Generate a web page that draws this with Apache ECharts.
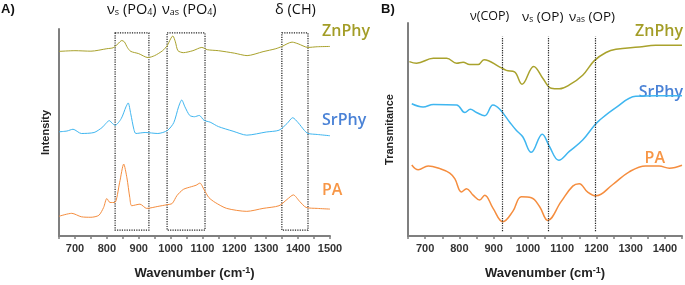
<!DOCTYPE html>
<html>
<head>
<meta charset="utf-8">
<script src="https://cdn.jsdelivr.net/npm/echarts@6/dist/echarts.min.js"></script>
<style>
  html, body { margin: 0; padding: 0; background: #fff; }
  #chart { width: 685px; height: 285px; }
</style>
</head>
<body>
<div id="chart"></div>
<script>
// Raman spectra (panel A) - [wavenumber, intensity], offset by sample
const ramanZn = [[650,187.3],[700,188],[750,187.5],[800,190],[820,191],[835,195],[847,198.3],[855,197],[865,191],[875,187.3],[900,185],[929,181],[950,183],[975,188],[989,193],[1000,200],[1007,203],[1015,197],[1023,188],[1040,186],[1070,188],[1098,191.3],[1115,189],[1150,188],[1200,185.5],[1240,183],[1290,187],[1330,190],[1349,192.3],[1381,196.7],[1400,195],[1431,191.3],[1460,192],[1500,192.3]];
const ramanSr = [[650,105.7],[675,106.5],[694,108.3],[720,104],[760,105],[785,110],[808,117],[818,114],[826,112.3],[845,119],[860,131],[867,135],[875,124],[885,108],[891,104],[920,105],[960,104],[990,107],[1010,115],[1025,131],[1035,138],[1045,131],[1060,122.3],[1075,121],[1090,122.3],[1105,117.3],[1124,115.5],[1150,111],[1196,106.3],[1239,102.3],[1300,105.5],[1340,107.3],[1365,114],[1383,120],[1400,115],[1420,107],[1431,104],[1460,103],[1500,101.7]];
const ramanPA = [[650,20],[690,23],[720,19.5],[750,19],[775,21],[790,29],[800,38],[810,34],[825,34],[840,54],[853,73],[863,59],[872,39],[878,30.7],[904,32.3],[925,28],[960,30],[988,31.7],[1005,33],[1020,41],[1040,47.3],[1065,50],[1080,51.5],[1092,53.7],[1105,47],[1120,39],[1140,34],[1176,28],[1239,25],[1290,28],[1340,30.7],[1365,37],[1385,41.7],[1405,35],[1425,29],[1460,28],[1500,27.3]];

// IR spectra (panel B) - [wavenumber, transmitance]
const irZn = [[654,179.3],[675,177.7],[724,182.7],[763,182.7],[792,177.7],[811,178.7],[830,176.3],[855,176.3],[872,181.3],[918,173.7],[937,170.3],[961,168.7],[983,156],[1017,174.3],[1044,162],[1068,152],[1092,151.3],[1121,155.3],[1160,165.3],[1194,180.3],[1228,188.7],[1257,192],[1325,194.3],[1373,196],[1450,196]];
const irSr = [[661,136],[694,132.7],[724,135.3],[792,134.7],[816,127],[832,130.3],[850,127],[874,123.7],[898,134.7],[918,130.3],[947,117],[966,108.7],[985,102],[1010,86],[1042,104.7],[1063,92],[1090,78],[1121,87],[1160,98.7],[1194,113.7],[1208,118.7],[1257,132],[1315,143.7],[1373,144.3],[1450,144.3]];
const irPA = [[661,73],[680,68],[709,72],[743,69.3],[772,64.7],[787,58.7],[806,45.3],[821,48.7],[840,42],[859,37],[874,42],[898,28.7],[927,14.7],[956,25.3],[981,40.3],[1010,39.3],[1034,30.3],[1058,16],[1097,35.3],[1131,51.3],[1150,53.7],[1174,45.3],[1199,41.3],[1247,52.7],[1296,66],[1344,72],[1383,72],[1413,69.7],[1450,72.7]];

// band regions (A) and band positions (B)
const ramanBands = [[826, 932], [989, 1108], [1349, 1431]];
const irBands = [925, 1060, 1197];

const cZn = '#a9a22c', cSr = '#3fb6f0', cPA = '#f58d3e';
const font = 'Liberation Sans, Arial, sans-serif';
const labelFont = 'Open Sans, Noto Sans, sans-serif';

const chart = echarts.init(document.getElementById('chart'));

function xAxisCfg(grid, min, max) {
  return {
    type: 'value', gridIndex: grid, min: min, max: max, interval: 50,
    name: 'Wavenumber (cm{sup|-1})', nameLocation: 'middle', nameGap: 30,
    nameTextStyle: {
      fontFamily: font, fontWeight: 'bold', fontSize: 13, color: '#222',
      rich: { sup: { fontFamily: font, fontWeight: 'bold', fontSize: 9, color: '#222', verticalAlign: 'top', padding: [0, 0, 6, 0] } }
    },
    axisLine: { lineStyle: { color: '#7f7f7f', width: 2 } },
    axisTick: { show: true, length: 3, lineStyle: { color: '#7f7f7f', width: 1.5 } },
    axisLabel: {
      fontFamily: font, fontWeight: 'bold', fontSize: 11, color: '#333', margin: 7,
      formatter: v => (v % 100 === 0 ? String(v) : '')
    },
    splitLine: { show: false }
  };
}
function yAxisCfg(grid, max, name, gap) {
  return {
    type: 'value', gridIndex: grid, min: 0, max: max,
    name: name, nameLocation: 'middle', nameGap: gap,
    nameTextStyle: { fontFamily: font, fontWeight: 'bold', fontSize: 11, color: '#222' },
    axisLine: { show: true, lineStyle: { color: '#7f7f7f', width: 2 } },
    axisTick: { show: false }, axisLabel: { show: false }, splitLine: { show: false }
  };
}
function line(data, color, xi, smooth, width) {
  return {
    type: 'line', xAxisIndex: xi, yAxisIndex: xi, data: data, smooth: smooth,
    showSymbol: false, silent: true, lineStyle: { color: color, width: width }
  };
}
function sub(t, size) {
  return {
    type: 'text', left: t.x, top: t.y,
    style: {
      text: t.text,
      rich: {
        n: { fontFamily: labelFont, fontSize: size, fill: '#111' },
        s: { fontFamily: labelFont, fontSize: size * 0.62, fill: '#111', verticalAlign: 'bottom' }
      }
    }
  };
}
function tag(text, x, y, color, align) {
  return {
    type: 'text', left: align === 'right' ? null : x, right: align === 'right' ? x : null, top: y,
    style: { text: text, fontFamily: labelFont, fontWeight: 600, fontSize: 16, fill: color }
  };
}

const boxSeries = line([], cZn, 0, false, 1);
boxSeries.markArea = {
  silent: true,
  itemStyle: { color: 'rgba(0,0,0,0)', borderColor: '#222', borderWidth: 1.2, borderType: 'dotted' },
  data: ramanBands.map(b => [{ coord: [b[0], 206] }, { coord: [b[1], 6] }])
};
const markSeries = line([], cZn, 1, false, 1);
markSeries.markLine = {
  silent: true, symbol: 'none', label: { show: false },
  lineStyle: { color: '#222', width: 1.2, type: 'dotted' },
  data: irBands.map(b => [{ coord: [b, 5] }, { coord: [b, 205] }])
};

chart.setOption({
  backgroundColor: '#fff',
  animation: false,
  grid: [
    { left: 59, top: 29, width: 271, height: 210 },
    { left: 408, top: 23, width: 275, height: 219 }
  ],
  xAxis: [xAxisCfg(0, 650, 1500), xAxisCfg(1, 650, 1450)],
  yAxis: [yAxisCfg(0, 210, 'Intensity', 8), yAxisCfg(1, 219, 'Transmitance', 13)],
  series: [
    line(ramanZn, cZn, 0, 0.25, 1), line(ramanSr, cSr, 0, 0.25, 1), line(ramanPA, cPA, 0, 0.25, 1),
    line(irZn, cZn, 1, 0.4, 1.5), line(irSr, cSr, 1, 0.4, 1.5), line(irPA, cPA, 1, 0.4, 1.5),
    boxSeries, markSeries
  ],
  graphic: [
    { type: 'text', left: 1, top: 3, style: { text: 'A)', fontFamily: font, fontWeight: 'bold', fontSize: 13, fill: '#111' } },
    { type: 'text', left: 381, top: 3, style: { text: 'B)', fontFamily: font, fontWeight: 'bold', fontSize: 13, fill: '#111' } },
    sub({ x: 107, y: 2, text: '{n|ν}{s|s}{n| (PO}{s|4}{n|)}' }, 14.5),
    sub({ x: 162, y: 2, text: '{n|ν}{s|as}{n| (PO}{s|4}{n|)}' }, 14.5),
    sub({ x: 275, y: 2, text: '{n|δ (CH)}' }, 14.5),
    sub({ x: 470, y: 10, text: '{n|ν(COP)}' }, 12.5),
    sub({ x: 522, y: 10, text: '{n|ν}{s|s}{n| (OP)}' }, 13.5),
    sub({ x: 569, y: 10, text: '{n|ν}{s|as}{n| (OP)}' }, 13.5),
    tag('ZnPhy', 322, 23, '#a39d27'),
    tag('SrPhy', 322, 112, '#4a82d6'),
    tag('PA', 322, 182, '#f79646'),
    tag('ZnPhy', 2, 23, '#a39d27', 'right'),
    tag('SrPhy', 2, 84, '#4a82d6', 'right'),
    tag('PA', 20, 150, '#f79646', 'right')
  ]
});
</script>
</body>
</html>
